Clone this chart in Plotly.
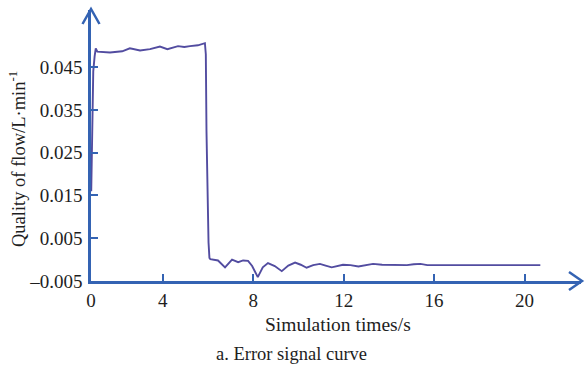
import plotly.graph_objects as go

# ---- data ----
time_s = [0.83, 0.87, 0.92, 0.98, 1.03, 1.10, 1.66, 2.20, 2.54, 2.99, 3.43, 3.87, 4.20, 4.67,
          4.95, 5.20, 5.55, 5.86, 5.90, 5.93, 5.97, 6.02, 6.06, 6.10, 6.44, 6.75, 7.06, 7.33,
          7.55, 7.77, 7.95, 8.20, 8.42, 8.65, 8.95, 9.26, 9.55, 9.85, 10.10, 10.36, 10.65,
          10.95, 11.20, 11.47, 11.97, 12.30, 12.65, 13.00, 13.30, 13.70, 14.20, 14.80, 15.10,
          15.40, 15.70, 16.50, 20.70]
flow = [0.0160, 0.0350, 0.0440, 0.0475, 0.0494, 0.0486, 0.0484, 0.0487, 0.0494, 0.0489,
        0.0492, 0.0498, 0.0492, 0.0499, 0.0497, 0.0499, 0.0501, 0.0506, 0.0480, 0.0300,
        0.0140, 0.0040, 0.0004, 0.0001, -0.0002, -0.0018, 0.0000, -0.0006, -0.0002, -0.0003,
        -0.0015, -0.0041, -0.0018, -0.0008, -0.0015, -0.0027, -0.0014, -0.0007, -0.0012,
        -0.0019, -0.0013, -0.0010, -0.0014, -0.0018, -0.0012, -0.0013, -0.0016, -0.0012,
        -0.0010, -0.0012, -0.0013, -0.0013, -0.0011, -0.0010, -0.0013, -0.0013, -0.0013]

x_tick_vals = [0.82, 4, 8, 12, 16, 20]
x_tick_text = ["0", "4", "8", "12", "16", "20"]
y_tick_vals = [-0.005, 0.005, 0.015, 0.025, 0.035, 0.045]
y_tick_text = ["–0.005", "0.005", "0.015", "0.025", "0.035", "0.045"]

W, H = 585, 372
L, R, T, B = 91, 581, 10, 281   # plot area in pixels

def px(x):
    return (x - L) / (R - L)

def py(y):
    return (B - y) / (B - T)

AXIS = "#3463b3"
CURVE = "#524ca0"
TXT = "#1e1e1e"
FONT = "Liberation Serif"

fig = go.Figure()
fig.add_trace(go.Scatter(x=time_s, y=flow, mode="lines",
                         line=dict(color=CURVE, width=1.9), showlegend=False))

fig.update_layout(
    width=W, height=H,
    margin=dict(l=L, r=W - R, t=T, b=H - B, pad=0, autoexpand=False),
    paper_bgcolor="white", plot_bgcolor="white",
    font=dict(family=FONT, color=TXT, size=19),
    xaxis=dict(range=[0.82, 22.5], tickvals=x_tick_vals, ticktext=x_tick_text,
               automargin=False,
               showgrid=False, zeroline=False, showline=True, linecolor=AXIS, linewidth=2.5,
               ticks="inside", ticklen=7, tickwidth=1.5, tickcolor=AXIS,
               tickfont=dict(family=FONT, size=19, color=TXT), ticklabelstandoff=0),
    yaxis=dict(range=[-0.005, 0.05835], tickvals=y_tick_vals, ticktext=y_tick_text,
               automargin=False,
               showgrid=False, zeroline=False, showline=True, linecolor=AXIS, linewidth=2.5,
               ticks="inside", ticklen=7, tickwidth=1.5, tickcolor=AXIS,
               tickfont=dict(family=FONT, size=19, color=TXT), ticklabelstandoff=2),
)

# arrow heads (open chevrons)
fig.add_shape(type="path", xref="paper", yref="paper",
              path=f"M {px(82.5)} {py(24)} L {px(91)} {py(9)} L {px(99.5)} {py(24)}",
              line=dict(color=AXIS, width=2.5))
fig.add_shape(type="path", xref="paper", yref="paper",
              path=f"M {px(569)} {py(272)} L {px(582)} {py(281)} L {px(569)} {py(290)}",
              line=dict(color=AXIS, width=2.5))

# axis titles and caption
fig.add_annotation(text="Quality of flow/L·min<sup>-1</sup>", xref="paper", yref="paper",
                   x=px(17), y=py(159), textangle=-90, showarrow=False,
                   xanchor="center", yanchor="middle",
                   font=dict(family=FONT, size=18.5, color=TXT))
fig.add_annotation(text="Simulation times/s", xref="paper", yref="paper",
                   x=px(338), y=py(324), showarrow=False,
                   xanchor="center", yanchor="middle",
                   font=dict(family=FONT, size=19.5, color=TXT))
fig.add_annotation(text="a. Error signal curve", xref="paper", yref="paper",
                   x=px(291), y=py(354), showarrow=False,
                   xanchor="center", yanchor="middle",
                   font=dict(family=FONT, size=18.5, color=TXT))

fig.write_html("out.html", config={"displayModeBar": False},
               post_script="document.body.style.margin='0';document.body.style.overflow='hidden';")
